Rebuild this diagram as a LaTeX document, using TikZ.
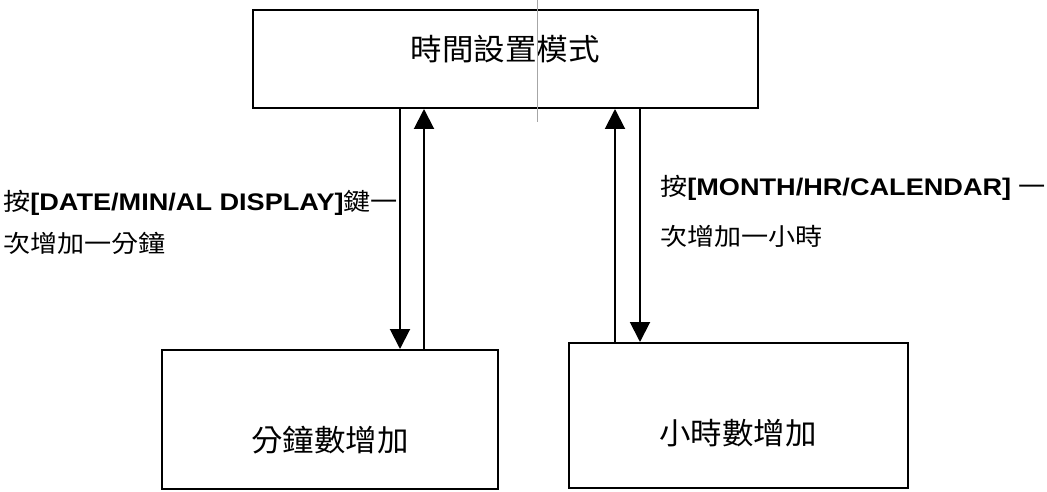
\documentclass[tikz,border=0pt]{standalone}
\usepackage{fontspec}
\setmainfont{Liberation Sans}[FakeStretch=1.13]
\newfontfamily\cjk{Noto Sans CJK TC}[FakeStretch=1.13]
\newfontfamily\cjkt{Noto Sans CJK TC}[FakeStretch=1.05]
\usetikzlibrary{arrows.meta}
\tikzset{
  boxnode/.style={draw=black, line width=2pt, inner sep=0pt},
  title/.style={font=\cjkt\fontsize{30}{36}\selectfont, inner sep=0pt, anchor=base},
  lbl/.style={font=\fontsize{24}{28}\selectfont, anchor=base west, inner sep=0pt},
  arr/.style={line width=2pt, -{Triangle[length=20pt,width=20pt]}},
  artifact/.style={draw=gray!70, line width=0.8pt}
}
\begin{document}
\begin{tikzpicture}[x=1pt,y=-1pt]
\useasboundingbox (0,0) rectangle (1047,492);
% boxes
\node[boxnode, minimum width=505pt, minimum height=98pt] (top) at (505.5,59) {};
\node[boxnode, minimum width=336pt, minimum height=139pt] (bl) at (330,419.5) {};
\node[boxnode, minimum width=339pt, minimum height=145pt] (br) at (738.5,415.5) {};
% box texts
\node[title] (toptxt) at (505,61) {時間設置模式};
\node[title] (bltxt) at (330,451) {分鐘數增加};
\node[title] (brtxt) at (738,444) {小時數增加};
% scan artifact
\draw[artifact] (537,0) -- (537,122);
% arrow columns
\coordinate (c1) at (400,0);
\coordinate (c2) at (424,0);
\coordinate (c3) at (615,0);
\coordinate (c4) at (640,0);
\draw[arr] (top.south -| c1) -- (bl.north -| c1);
\draw[arr] (bl.north -| c2) -- (top.south -| c2);
\draw[arr] (br.north -| c3) -- (top.south -| c3);
\draw[arr] (top.south -| c4) -- (br.north -| c4);
% labels
\node[lbl] (l1) at (3,210) {{\cjk 按}\textbf{[DATE/MIN/AL DISPLAY]}{\cjk 鍵一}};
\node[lbl] (l2) at (3,252) {{\cjk 次增加一分鐘}};
\node[lbl] (r1) at (660,195) {{\cjk 按}\textbf{[MONTH/HR/CALENDAR]} {\cjk 一}};
\node[lbl] (r2) at (660,245) {{\cjk 次增加一小時}};
\end{tikzpicture}
\end{document}
